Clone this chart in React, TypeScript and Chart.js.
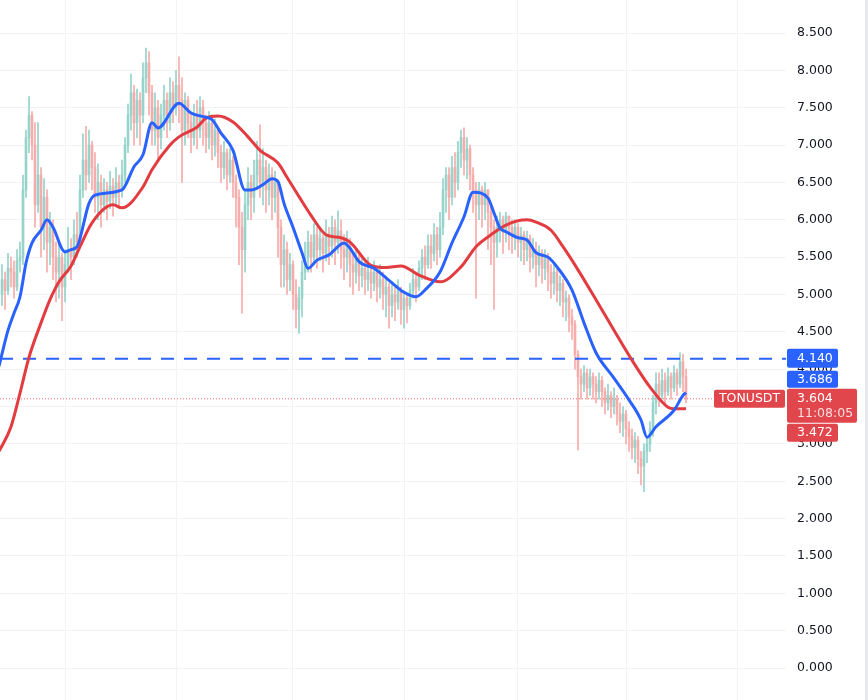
import React, { useEffect, useRef } from 'react';
import { Chart, registerables } from 'chart.js';

Chart.register(...registerables);

// ---- Candle data (daily, left to right) ----
const firstOpen = 5.0;
const closes = [
  5.20, 5.05, 5.35, 5.30, 5.10, 5.45, 5.50, 6.40, 7.10, 7.40,
  7.00, 6.20, 6.60, 5.90, 6.30, 5.70, 5.90, 5.50, 5.30, 5.50,
  5.10, 5.40, 5.60, 5.50, 5.80, 5.70, 6.40, 6.80, 6.60, 7.00,
  6.70, 6.30, 6.50, 6.20, 6.40, 6.25, 6.45, 6.30, 6.50, 6.40,
  6.60, 7.00, 7.40, 7.70, 7.30, 7.60, 7.40, 7.90, 8.10, 7.70,
  7.20, 7.50, 7.10, 7.40, 7.60, 7.30, 7.70, 7.50, 7.80, 7.60,
  7.20, 7.60, 7.30, 7.10, 7.40, 7.20, 7.50, 7.30, 7.10, 7.30,
  7.00, 7.20, 6.90, 6.70, 6.90, 6.60, 6.80, 6.50, 6.30, 5.90,
  5.60, 6.20, 6.50, 6.30, 6.60, 6.80, 6.50, 6.70, 6.40, 6.60,
  6.30, 6.50, 5.90, 5.40, 5.60, 5.20, 5.40, 5.00, 4.80, 4.95,
  5.30, 5.50, 5.70, 5.50, 5.80, 5.60, 5.75, 5.55, 5.80, 5.65,
  5.90, 5.70, 5.85, 5.60, 5.50, 5.70, 5.40, 5.30, 5.50, 5.25,
  5.35, 5.20, 5.30, 5.15, 5.30, 5.10, 5.20, 5.00, 5.10, 4.85,
  5.00, 4.90, 5.05, 4.80, 4.95, 4.85, 5.05, 5.20, 5.10, 5.35,
  5.50, 5.40, 5.65, 5.55, 5.80, 5.60, 5.90, 6.40, 6.60, 6.30,
  6.70, 6.50, 6.90, 7.10, 6.80, 6.95, 6.60, 6.40, 6.20, 6.40,
  6.20, 6.40, 6.10, 5.90, 5.70, 5.90, 6.00, 5.85, 6.05, 5.90,
  5.80, 5.90, 5.70, 5.80, 5.60, 5.75, 5.50, 5.60, 5.40, 5.55,
  5.35, 5.50, 5.30, 5.15, 5.30, 5.05, 5.15, 4.90, 4.95, 4.70,
  4.60, 4.20, 3.90, 3.80, 3.95, 3.75, 3.90, 3.80, 3.70, 3.85,
  3.70, 3.55, 3.65, 3.50, 3.60, 3.40, 3.30, 3.40, 3.20, 3.10,
  2.95, 3.05, 2.80, 2.70, 2.90, 3.00, 3.20, 3.55, 3.80, 3.65,
  3.85, 3.70, 3.90, 3.75, 3.95, 3.80, 4.10, 3.90, 3.604,
];
const highs = [
  5.40, 5.30, 5.55, 5.50, 5.45, 5.60, 5.70, 6.60, 7.20, 7.65,
  7.45, 7.30, 7.30, 6.70, 6.55, 6.40, 6.10, 6.00, 5.70, 5.70,
  5.55, 5.60, 5.90, 5.75, 6.00, 6.10, 6.60, 7.15, 7.25, 7.20,
  7.05, 6.90, 6.75, 6.60, 6.55, 6.50, 6.65, 6.55, 6.70, 6.60,
  6.80, 7.10, 7.55, 7.95, 7.80, 7.75, 7.70, 8.10, 8.30, 8.25,
  7.80, 7.70, 7.60, 7.55, 7.80, 7.70, 7.90, 7.85, 8.00, 8.18,
  7.90, 7.70, 7.65, 7.45, 7.55, 7.60, 7.65, 7.60, 7.40, 7.45,
  7.40, 7.35, 7.25, 7.00, 7.05, 6.95, 6.95, 6.85, 6.60, 6.40,
  6.10, 6.40, 6.70, 6.60, 6.80, 7.05, 7.27, 6.95, 6.80, 6.75,
  6.70, 6.65, 6.50, 6.00, 5.80, 5.70, 5.55, 5.45, 5.20, 5.10,
  5.45, 5.70, 5.85, 5.80, 5.95, 5.90, 5.90, 5.80, 6.00, 5.90,
  6.05, 6.00, 6.12, 6.00, 5.80, 5.85, 5.75, 5.55, 5.60, 5.55,
  5.50, 5.45, 5.50, 5.40, 5.45, 5.35, 5.40, 5.30, 5.25, 5.15,
  5.15, 5.10, 5.20, 5.10, 5.05, 5.00, 5.15, 5.35, 5.30, 5.45,
  5.60, 5.65, 5.80, 5.80, 5.95, 5.90, 6.10, 6.55, 6.70, 6.70,
  6.85, 6.90, 7.05, 7.20, 7.23, 7.10, 7.00, 6.70, 6.50, 6.50,
  6.45, 6.50, 6.40, 6.20, 6.00, 6.05, 6.10, 6.05, 6.10, 6.05,
  6.00, 6.00, 5.95, 5.90, 5.85, 5.85, 5.80, 5.75, 5.70, 5.65,
  5.60, 5.60, 5.55, 5.40, 5.40, 5.35, 5.25, 5.20, 5.05, 5.00,
  4.80, 4.65, 4.25, 4.00, 4.05, 4.00, 4.00, 3.95, 3.90, 3.95,
  3.90, 3.75, 3.80, 3.70, 3.75, 3.65, 3.55, 3.50, 3.45, 3.30,
  3.20, 3.15, 3.10, 2.90, 3.00, 3.10, 3.30, 3.65, 3.95, 3.95,
  4.00, 3.95, 4.02, 3.95, 4.05, 4.00, 4.22, 4.20, 4.00,
];
const lows = [
  4.85, 4.80, 5.00, 5.10, 4.95, 5.05, 5.30, 5.40, 6.30, 6.90,
  6.80, 5.90, 6.10, 5.50, 5.60, 5.30, 5.40, 5.20, 4.90, 4.95,
  4.65, 4.90, 5.30, 5.20, 5.40, 5.50, 5.70, 6.30, 6.40, 6.50,
  6.40, 6.10, 6.00, 5.90, 6.10, 6.00, 6.15, 6.05, 6.20, 6.15,
  6.30, 6.50, 6.90, 7.20, 7.00, 7.10, 7.00, 7.30, 7.70, 7.40,
  7.00, 7.00, 6.80, 6.95, 7.20, 7.10, 7.20, 7.30, 7.40, 7.30,
  6.50, 7.00, 7.10, 6.90, 7.00, 6.95, 7.10, 7.00, 6.90, 6.95,
  6.80, 6.85, 6.70, 6.50, 6.55, 6.40, 6.50, 6.30, 5.90, 5.40,
  4.75, 5.30, 6.00, 6.00, 6.10, 6.40, 6.30, 6.20, 6.10, 6.20,
  6.00, 6.10, 5.50, 5.10, 5.10, 5.00, 5.05, 4.80, 4.55, 4.48,
  4.70, 5.20, 5.30, 5.30, 5.40, 5.35, 5.45, 5.30, 5.45, 5.40,
  5.50, 5.40, 5.55, 5.35, 5.20, 5.30, 5.10, 5.00, 5.15, 5.05,
  5.10, 5.00, 5.05, 4.95, 5.05, 4.90, 4.95, 4.80, 4.70, 4.55,
  4.70, 4.65, 4.80, 4.60, 4.55, 4.62, 4.80, 4.95, 4.90, 5.05,
  5.20, 5.20, 5.35, 5.35, 5.45, 5.40, 5.50, 5.80, 6.10, 6.00,
  6.20, 6.30, 6.40, 6.70, 6.60, 6.55, 6.40, 6.10, 4.95, 6.00,
  5.90, 6.00, 5.60, 5.40, 4.80, 5.50, 5.70, 5.55, 5.70, 5.60,
  5.55, 5.60, 5.50, 5.45, 5.40, 5.45, 5.30, 5.35, 5.10, 5.25,
  5.15, 5.20, 5.05, 4.95, 5.00, 4.90, 4.85, 4.70, 4.65, 4.50,
  4.40, 4.00, 2.92, 3.60, 3.70, 3.60, 3.65, 3.60, 3.55, 3.60,
  3.50, 3.40, 3.45, 3.35, 3.40, 3.25, 3.15, 3.10, 3.00, 2.90,
  2.80, 2.75, 2.60, 2.45, 2.36, 2.75, 2.90, 3.10, 3.40, 3.50,
  3.60, 3.55, 3.65, 3.60, 3.70, 3.65, 3.75, 3.70, 3.55,
];

// ---- Moving averages (candle index -> value) ----
const fastIdx = [
  -1, 2, 4, 6, 8, 10, 13, 15, 17, 21, 23, 25, 29, 31, 40, 44, 47, 50, 52, 59,
  63, 67, 70, 73, 77, 81, 83, 87, 90, 92, 94, 97, 100, 102, 105, 109, 114, 116, 119, 124,
  129, 134, 138, 141, 146, 150, 154, 157, 162, 164, 166, 168, 172, 175, 178, 182, 185, 190, 194, 198,
  204, 209, 213, 215, 218, 224, 227, 228,
];
const fastMA = [
  4.04, 4.52, 4.75, 4.97, 5.42, 5.69, 5.86, 6.00, 5.90, 5.57, 5.60, 5.64, 6.22, 6.33, 6.40, 6.71, 6.87, 7.30, 7.23, 7.56,
  7.43, 7.38, 7.34, 7.16, 6.93, 6.40, 6.40, 6.47, 6.55, 6.51, 6.22, 5.90, 5.56, 5.35, 5.46, 5.53, 5.69, 5.62, 5.44, 5.35,
  5.19, 5.03, 4.97, 5.06, 5.30, 5.69, 6.04, 6.37, 6.29, 6.09, 5.89, 5.84, 5.76, 5.73, 5.56, 5.50, 5.37, 5.06, 4.62, 4.22,
  3.88, 3.59, 3.32, 3.09, 3.23, 3.45, 3.65, 3.686,
];
const slowIdx = [
  -1, 3, 6, 9, 13, 16, 19, 23, 26, 30, 37, 40, 47, 50, 56, 59, 65, 68, 72, 77,
  82, 86, 92, 95, 99, 103, 108, 113, 116, 123, 128, 133, 139, 146, 153, 158, 163, 168, 175, 178,
  183, 187, 192, 198, 204, 210, 216, 222, 224, 228,
];
const slowMA = [
  2.90, 3.23, 3.68, 4.16, 4.62, 4.93, 5.17, 5.38, 5.64, 5.96, 6.20, 6.16, 6.44, 6.67, 7.00, 7.11, 7.24, 7.36, 7.39, 7.31,
  7.11, 6.93, 6.76, 6.57, 6.31, 6.06, 5.80, 5.76, 5.70, 5.39, 5.36, 5.38, 5.26, 5.17, 5.37, 5.64, 5.80, 5.93, 6.00, 5.97,
  5.86, 5.64, 5.33, 4.93, 4.52, 4.12, 3.76, 3.49, 3.47, 3.472,
];

// ---- Axes / annotations ----
const priceTicks = [0, 0.5, 1, 1.5, 2, 2.5, 3, 3.5, 4, 4.5, 5, 5.5, 6, 6.5, 7, 7.5, 8, 8.5];
const timeGridIdx = [21, 58.33, 96.67, 134.33, 171.67, 208, 245.33];
const alertLevel = 4.14;
const symbol = 'TONUSDT';
const countdown = '11:08:05';

const X_MIN = -0.667;
const X_MAX = 261.333;
const Y_MIN = -0.428;
const Y_MAX = 8.942;

const FONT = '12.5px "DejaVu Sans"';
const BLUE = '#2962ff';
const RED_LINE = '#e23b40';
const RED_BOX = '#e0464c';

function roundBox(ctx: CanvasRenderingContext2D, x: number, y: number, w: number, h: number, color: string) {
  ctx.fillStyle = color;
  ctx.beginPath();
  if ((ctx as any).roundRect) (ctx as any).roundRect(x, y, w, h, 2);
  else ctx.rect(x, y, w, h);
  ctx.fill();
}

const labelPlugin = {
  id: 'priceLabels',
  afterDraw(chart: any) {
    const ctx: CanvasRenderingContext2D = chart.ctx;
    const ys = chart.scales.y;
    const boxX = chart.chartArea.right + 1;
    ctx.save();
    // right border of the price scale
    ctx.fillStyle = '#e6e8ec';
    ctx.fillRect(865, 0, 3, chart.height);

    ctx.font = FONT;
    ctx.textBaseline = 'middle';
    ctx.textAlign = 'left';

    const lastPrice = closes[closes.length - 1];
    const fastLast = fastMA[fastMA.length - 1];
    const slowLast = slowMA[slowMA.length - 1];

    // alert line label
    const yA = ys.getPixelForValue(alertLevel);
    roundBox(ctx, boxX, yA - 10, 51, 19, BLUE);
    ctx.fillStyle = '#ffffff';
    ctx.fillText(alertLevel.toFixed(3), boxX + 10, yA);

    // last price label
    const yL = ys.getPixelForValue(lastPrice);
    const redTop = yL - 10;
    roundBox(ctx, boxX, redTop, 70, 34, RED_BOX);
    ctx.fillStyle = '#ffffff';
    ctx.fillText(lastPrice.toFixed(3), boxX + 10, yL);
    ctx.fillStyle = 'rgba(255,255,255,0.82)';
    ctx.fillText(countdown, boxX + 10, yL + 15);

    // symbol label
    roundBox(ctx, 714, redTop + 1, 71, 18, RED_BOX);
    ctx.fillStyle = '#ffffff';
    ctx.textAlign = 'center';
    ctx.fillText(symbol, 749.5, yL);
    ctx.textAlign = 'left';

    // fast MA label (pushed above)
    const fTop = redTop - 18;
    roundBox(ctx, boxX, fTop, 51, 17, BLUE);
    ctx.fillStyle = '#ffffff';
    ctx.fillText(fastLast.toFixed(3), boxX + 10, fTop + 9);

    // slow MA label (pushed below)
    const sTop = redTop + 35;
    roundBox(ctx, boxX, sTop, 51, 18, RED_BOX);
    ctx.fillStyle = '#ffffff';
    ctx.fillText(slowLast.toFixed(3), boxX + 10, sTop + 9);

    ctx.restore();
  },
};

export default function App() {
  const ref = useRef<HTMLCanvasElement>(null);

  useEffect(() => {
    document.body.style.margin = '0';
    const opens = closes.map((c, i) => (i === 0 ? firstOpen : closes[i - 1]));
    const green = 'rgb(150,211,203)';
    const red = 'rgb(246,172,171)';
    const colors = closes.map((c, i) => (c >= opens[i] ? green : red));
    const wick = closes.map((c, i) => ({ x: i, y: [lows[i], highs[i]] }));
    const body = closes.map((c, i) => ({ x: i, y: [opens[i], c] }));
    const lastPrice = closes[closes.length - 1];

    const chart = new Chart(ref.current as HTMLCanvasElement, {
      type: 'bar',
      data: {
        datasets: [
          {
            type: 'line',
            label: 'fast',
            data: fastIdx.map((x, k) => ({ x, y: fastMA[k] })),
            borderColor: BLUE,
            borderWidth: 3,
            pointRadius: 0,
            cubicInterpolationMode: 'monotone',
            order: 0,
          } as any,
          {
            type: 'line',
            label: 'slow',
            data: slowIdx.map((x, k) => ({ x, y: slowMA[k] })),
            borderColor: RED_LINE,
            borderWidth: 3,
            pointRadius: 0,
            cubicInterpolationMode: 'monotone',
            order: 1,
          } as any,
          {
            type: 'line',
            label: 'alert',
            data: [{ x: X_MIN, y: alertLevel }, { x: X_MAX, y: alertLevel }],
            borderColor: BLUE,
            borderWidth: 2,
            borderDash: [13, 10],
            pointRadius: 0,
            order: 2,
          } as any,
          {
            type: 'line',
            label: 'last',
            data: [{ x: X_MIN, y: lastPrice }, { x: X_MAX, y: lastPrice }],
            borderColor: 'rgba(239,83,80,0.85)',
            borderWidth: 1,
            borderDash: [1, 2],
            pointRadius: 0,
            order: 3,
          } as any,
          {
            type: 'bar',
            label: 'body',
            data: body,
            backgroundColor: colors,
            barThickness: 2,
            grouped: false,
            minBarLength: 1,
            order: 4,
          } as any,
          {
            type: 'bar',
            label: 'wick',
            data: wick,
            backgroundColor: colors,
            barThickness: 1,
            grouped: false,
            order: 5,
          } as any,
        ],
      },
      options: {
        responsive: false,
        animation: false,
        devicePixelRatio: 1,
        events: [],
        layout: { padding: 0 },
        plugins: { legend: { display: false }, tooltip: { enabled: false } },
        scales: {
          x: {
            type: 'linear',
            min: X_MIN,
            max: X_MAX,
            offset: false,
            grid: { color: '#f2f3f6', offset: false, drawTicks: false },
            border: { display: false },
            ticks: { display: false },
            afterBuildTicks: (s: any) => {
              s.ticks = timeGridIdx.map((v) => ({ value: v }));
            },
            afterFit: (s: any) => {
              s.height = 0;
              s.paddingLeft = 0;
              s.paddingRight = 0;
            },
          },
          y: {
            type: 'linear',
            position: 'right',
            min: Y_MIN,
            max: Y_MAX,
            grid: { color: '#f2f3f6', drawTicks: false },
            border: { display: false },
            ticks: {
              padding: 11,
              color: '#131722',
              autoSkip: false,
              font: { family: 'DejaVu Sans', size: 12.5 },
              callback: (v: any) => Number(v).toFixed(3),
            },
            afterBuildTicks: (s: any) => {
              s.ticks = priceTicks.map((v) => ({ value: v }));
            },
            afterFit: (s: any) => {
              s.width = 82;
              s.paddingTop = 0;
              s.paddingBottom = 0;
            },
          },
        },
      } as any,
      plugins: [labelPlugin],
    });
    return () => chart.destroy();
  }, []);

  return <canvas ref={ref} width={868} height={700} style={{ display: 'block' }} />;
}
